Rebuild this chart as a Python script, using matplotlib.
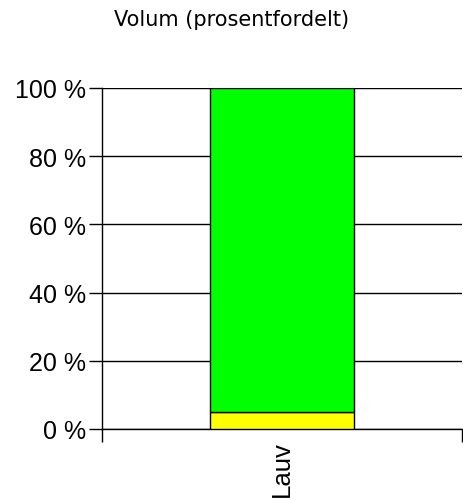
import matplotlib
matplotlib.use("Agg")
import matplotlib.pyplot as plt
import numpy as np

categories = ["Lauv"]
series_names = ["Gul", "Grønn"]
series_values = [[5.0], [95.0]]
series_colors = ["#ffff00", "#00ff00"]
y_ticks = [0, 20, 40, 60, 80, 100]
y_tick_labels = ["0 %", "20 %", "40 %", "60 %", "80 %", "100 %"]
title = "Volum (prosentfordelt)"

W, H = 463, 502
fig = plt.figure(figsize=(W / 100, H / 100), dpi=100)
ax = fig.add_axes([102 / W, 1 - 430 / H, 360 / W, 341 / H])

x = np.arange(len(categories))
bottom = np.zeros(len(categories))
for name, vals, color in zip(series_names, series_values, series_colors):
    vals = np.asarray(vals)
    ax.bar(x, vals, width=0.4, bottom=bottom, color=color, edgecolor="black", linewidth=1.0, label=name, zorder=3)
    bottom += vals

ax.set_xlim(-0.5, len(categories) - 0.5)
ax.set_ylim(0, 100)
ax.set_yticks(y_ticks)
ax.set_yticklabels(y_tick_labels, fontsize=18, family="Liberation Sans")
ax.yaxis.grid(True, color="black", linewidth=1.0, zorder=0)
ax.set_axisbelow(True)

ax.set_xticks(x)
ax.set_xticklabels(categories, rotation=90, fontsize=18.5, family="Liberation Sans", va="top")
ax.set_xticks(np.arange(len(categories) + 1) - 0.5, minor=True)
ax.tick_params(axis="x", which="major", length=0, pad=8)
ax.tick_params(axis="x", which="minor", length=9, width=1.0, color="black")
ax.tick_params(axis="y", length=9.5, width=1.0, pad=2, color="black")

for side in ("top", "right"):
    ax.spines[side].set_visible(False)
for side in ("left", "bottom"):
    ax.spines[side].set_color("black")
    ax.spines[side].set_linewidth(1.0)

fig.text(0.5, 1 - 20 / H, title, ha="center", va="center", fontsize=15, family="DejaVu Sans")

fig.savefig("out.png", dpi=100)
